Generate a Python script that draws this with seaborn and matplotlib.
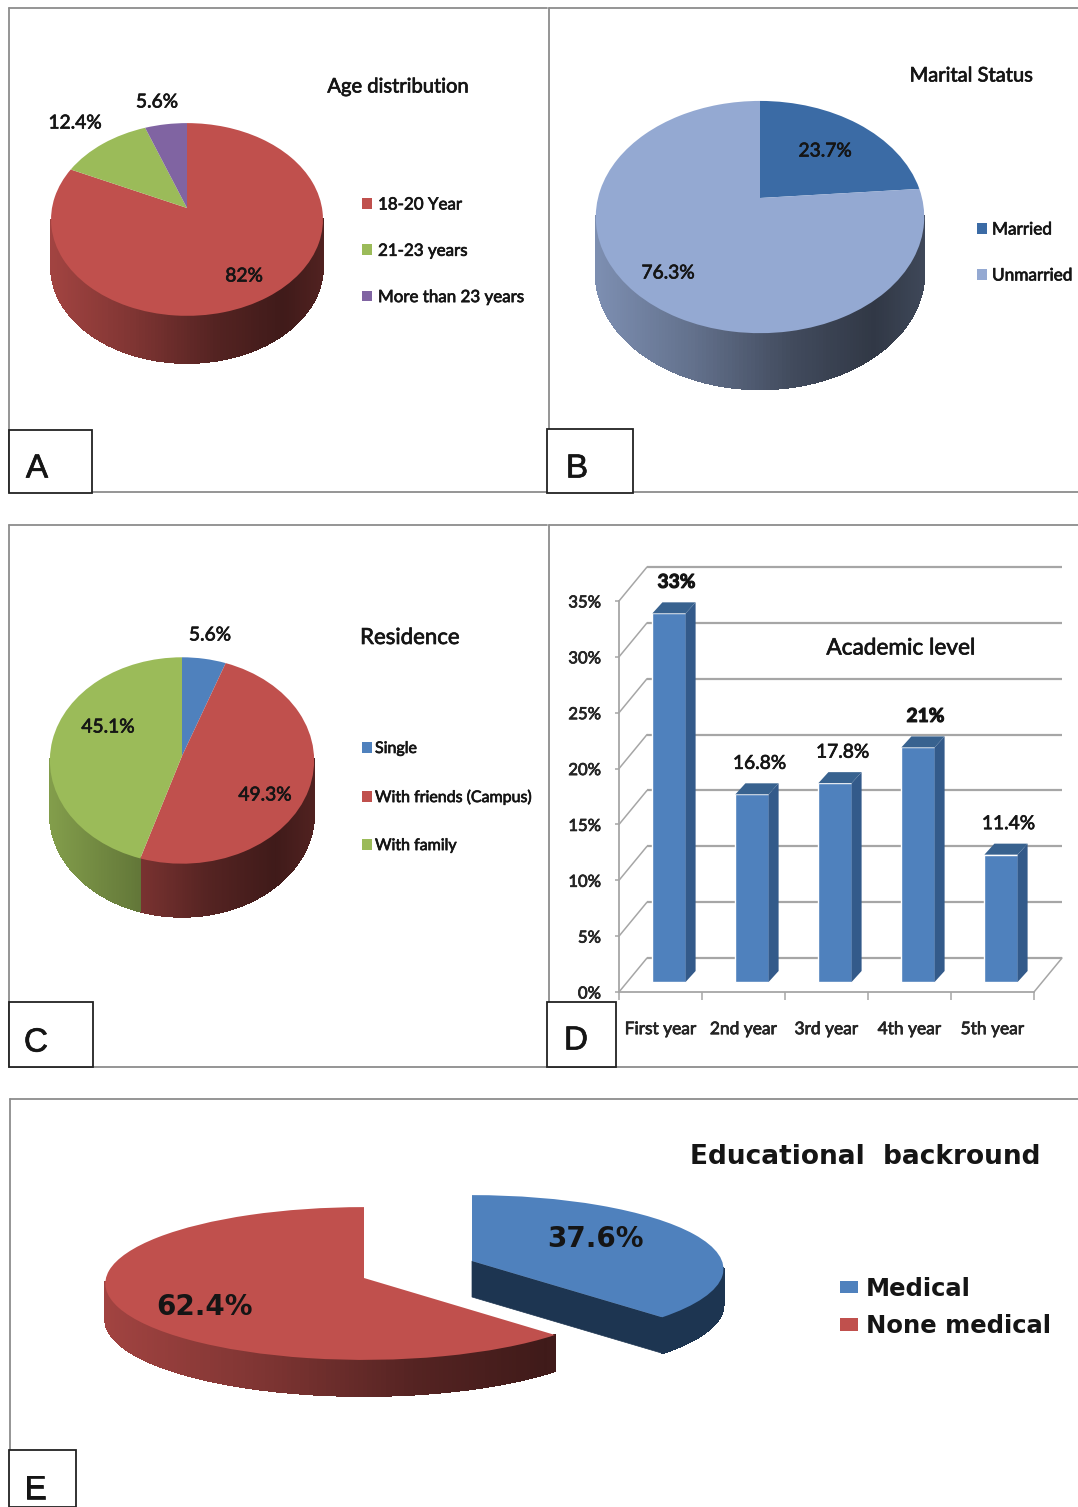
import numpy as np
import seaborn as sns
import matplotlib
matplotlib.use("Agg")
import matplotlib.pyplot as plt
import matplotlib.patheffects as pe
from matplotlib.collections import PolyCollection
from matplotlib.colors import to_rgb
from matplotlib.patches import Patch, Rectangle
from matplotlib.text import Text
from matplotlib.transforms import Affine2D, Transform

# Survey figures, in percent
age_labels = ["18-20 Year", "21-23 years", "More than 23 years"]
age_values = [82, 12.4, 5.6]
marital_labels = ["Married", "Unmarried"]
marital_values = [23.7, 76.3]
residence_labels = ["Single", "With friends (Campus)", "With family"]
residence_values = [5.6, 49.3, 45.1]
academic_labels = ["First year", "2nd year", "3rd year", "4th year", "5th year"]
academic_values = [33, 16.8, 17.8, 21, 11.4]
background_labels = ["Medical", "None medical"]
background_values = [37.6, 62.4]

RED, GREEN, PURPLE = "#c0504d", "#9bbb59", "#8064a2"
BLUE, DEEP_BLUE, PALE_BLUE = "#4f81bd", "#3b6ba5", "#94a9d2"
NAVY = "#1d3551"
FRAME = "#8c8c8c"
INK = "#151515"

sns.set_theme(style="white")
plt.rcParams["font.family"] = ["Lato", "Liberation Sans", "DejaVu Sans"]
plt.rcParams["text.color"] = INK

W, H = 1078, 1507
fig = plt.figure(figsize=(W / 100, H / 100), dpi=100, facecolor="white")


def pixel_axes(x0, y0, x1, y1, **kw):
    """Axes whose data units are figure pixels, y running downward."""
    return fig.add_axes([x0 / W, 1 - y1 / H, (x1 - x0) / W, (y1 - y0) / H], **kw)


class DiscProjection(Transform):
    """Perspective view of the unit disc seen from above and in front."""
    input_dims = output_dims = 2
    is_affine = False

    def __init__(self, cx, cy, radius, height, k):
        super().__init__()
        self.cx, self.cy, self.radius, self.height, self.k = cx, cy, radius, height, k

    def transform_non_affine(self, xy):
        xy = np.asarray(xy, dtype=float)
        w = 1 + self.k * xy[:, 1]
        return np.column_stack((self.cx + self.radius * xy[:, 0] / w,
                                self.cy - self.height * xy[:, 1] / w))


def side_shade(t):
    return np.interp(t, [0, 0.3, 0.6, 0.85, 1], [0.84, 0.66, 0.44, 0.33, 0.42])


def draw_pie(ax, values, colors, projections, depth, flat_sides=None, cut_faces=()):
    flat_sides = flat_sides or {}
    wedges, _ = ax.pie(values, colors=colors, startangle=90, counterclock=False,
                       radius=1, wedgeprops=dict(linewidth=0, zorder=3))
    edges = 90 - 360 * np.cumsum([0] + list(values)) / np.sum(values)
    for i, wedge in enumerate(wedges):
        proj = projections[i]
        wedge.set_transform(proj + ax.transData)
        theta = np.radians(np.linspace(edges[i], edges[i + 1], 240))
        # only the rim below the disc's widest points shows a side wall
        theta = theta[np.sin(theta) < -proj.k + 0.02]
        if theta.size < 2:
            continue
        rim = proj.transform_non_affine(np.column_stack((np.cos(theta), np.sin(theta))))
        polys, fills = [], []
        base = np.array(to_rgb(colors[i]))
        for a, b in zip(rim[:-1], rim[1:]):
            polys.append([a, b, b + [0, depth], a + [0, depth]])
            t = ((a[0] + b[0]) / 2 - proj.cx + proj.radius) / (2 * proj.radius)
            fills.append(to_rgb(flat_sides[i]) if i in flat_sides else tuple(base * side_shade(t)))
        ax.add_collection(PolyCollection(polys, facecolors=fills, edgecolors=fills,
                                         linewidths=0.8, antialiaseds=False, zorder=1))
        if i in cut_faces:
            # flat face exposed along the trailing radius of a pulled-out slice
            end = np.radians(edges[i + 1])
            pts = proj.transform_non_affine(np.array([[0, 0], [np.cos(end), np.sin(end)]]))
            ax.fill([pts[0, 0], pts[1, 0], pts[1, 0], pts[0, 0]],
                    [pts[0, 1], pts[1, 1], pts[1, 1] + depth, pts[0, 1] + depth],
                    color=flat_sides[i], lw=0.5, zorder=2)


def finish_panel(ax, x0, y0, x1, y1, sides, letter, box):
    ax.set_aspect("auto")
    ax.set_xlim(x0, x1)
    ax.set_ylim(y1, y0)
    ax.set_xticks([])
    ax.set_yticks([])
    ax.set_frame_on(False)
    for side in sides:
        xs = {"left": [x0, x0], "right": [x1, x1]}.get(side, [x0, x1])
        ys = {"top": [y0, y0], "bottom": [y1, y1]}.get(side, [y0, y1])
        ax.plot(xs, ys, color=FRAME, lw=1.3, clip_on=False, zorder=4)
    bx0, by0, bx1, by1 = box
    ax.add_patch(Rectangle((bx0, by0), bx1 - bx0, by1 - by0, fc="white", ec="#222222",
                           lw=1.3, clip_on=False, zorder=6))
    ax.text(letter[1], letter[2], letter[0], ha="center", va="center", fontsize=24,
            family="Liberation Sans", zorder=7, clip_on=False)


def add_legend(ax, labels, colors, x, y, fs, gap, handle=(10, 10), pad=6, **text_kw):
    px = fs * 100 / 72
    return ax.legend([Patch(facecolor=c, lw=0) for c in colors], labels,
                     loc="upper left", bbox_to_anchor=(x, y), bbox_transform=ax.transData,
                     frameon=False, borderpad=0, borderaxespad=0,
                     handlelength=handle[0] / px, handleheight=handle[1] / px,
                     handletextpad=pad / px, labelspacing=gap / px,
                     prop=dict(size=fs, **text_kw))


def pct(v):
    return f"{v:g}%"


VALUE_FS, TITLE_FS = 13.8, 14.5

# Panel A: age distribution
ax_a = pixel_axes(9, 8, 547, 492)
colors_a = [RED, GREEN, PURPLE]
proj_a = DiscProjection(187, 208, 135, 95, 0.119)
draw_pie(ax_a, age_values, colors_a, [proj_a] * 3, 47)
for v, (x, y) in zip(age_values, [(244, 276), (75, 123), (157, 102)]):
    ax_a.text(x, y, pct(v), ha="center", va="center", fontsize=VALUE_FS, zorder=5)
ax_a.text(398, 87, "Age distribution", ha="center", va="center", fontsize=TITLE_FS)
add_legend(ax_a, age_labels, colors_a, 362, 196.5, 12.2, 30.3)
finish_panel(ax_a, 9, 8, 547, 492, ["left", "top", "bottom"], ("A", 37, 469), (9, 430, 92, 493))

# Panel B: marital status
ax_b = pixel_axes(549, 8, 1078, 492)
colors_b = [DEEP_BLUE, PALE_BLUE]
proj_b = DiscProjection(760, 198, 162, 113, 0.164)
draw_pie(ax_b, marital_values, colors_b, [proj_b] * 2, 56)
for v, (x, y) in zip(marital_values, [(825, 151), (668, 273)]):
    ax_b.text(x, y, pct(v), ha="center", va="center", fontsize=VALUE_FS, zorder=5)
ax_b.text(971, 76, "Marital Status", ha="center", va="center", fontsize=TITLE_FS)
add_legend(ax_b, marital_labels, colors_b, 977, 221.5, 12.4, 30, pad=5)
finish_panel(ax_b, 549, 8, 1078, 492, ["left", "top", "bottom"], ("B", 577, 469), (547, 429, 633, 493))

# Panel C: residence
ax_c = pixel_axes(9, 525, 547, 1067)
colors_c = [BLUE, RED, GREEN]
proj_c = DiscProjection(182, 756, 132, 103, 0.0435)
draw_pie(ax_c, residence_values, colors_c, [proj_c] * 3, 53)
for v, (x, y) in zip(residence_values, [(210, 635), (265, 795), (108, 727)]):
    ax_c.text(x, y, pct(v), ha="center", va="center", fontsize=VALUE_FS, zorder=5)
ax_c.text(410, 638, "Residence", ha="center", va="center", fontsize=16)
add_legend(ax_c, residence_labels, colors_c, 362, 742, 11.5, 34, pad=3)
finish_panel(ax_c, 9, 525, 547, 1067, ["left", "top", "bottom"], ("C", 36, 1043), (9, 1002, 93, 1067))

# Panel D: academic level, a column chart with an oblique floor and back wall
ax_d = fig.add_axes([619 / W, 1 - 992 / H, (1034 - 619) / W, (992 - 601) / H])
ax_d.patch.set_alpha(0)
sns.barplot(x=academic_labels, y=academic_values, color=BLUE, saturation=1, width=0.4,
            ax=ax_d, zorder=3)
ax_d.set_xlim(-0.5, 4.5)
ax_d.set_ylim(0, 35)
ax_d.set_xlabel("")
ax_d.set_ylabel("")
GRID = "#a6a6a6"


def shifted(dx, dy):
    return ax_d.transData + Affine2D().translate(dx, dy)


pct_ticks = np.arange(0, 36, 5)
wall = (28, 34)
ax_d.hlines(pct_ticks, -0.5, 4.5, colors=GRID, lw=1.6, transform=shifted(*wall), clip_on=False, zorder=1)
to_data = ax_d.transData.inverted()
for t in pct_ticks:
    a = ax_d.transData.transform((-0.5, t))
    e = to_data.transform(a + wall)
    ax_d.plot([-0.5, e[0]], [t, e[1]], color=GRID, lw=1.1, clip_on=False, zorder=1)
a = ax_d.transData.transform((4.5, 0))
e = to_data.transform(a + wall)
ax_d.plot([4.5, e[0]], [0, e[1]], color=GRID, lw=1.1, clip_on=False, zorder=1)

# the columns stand mid-floor, so shift them back and give each a side and a top face
mid = (8.5, 10)
sx, sy = 10 / (415 / 5), 11 / (391 / 35)
half = 0.2
for patch in ax_d.patches:
    patch.set_transform(shifted(*mid))
for i, v in enumerate(academic_values):
    r, l = i + half, i - half
    ax_d.fill([r, r + sx, r + sx, r], [0, sy, v + sy, v], color="#335a8a", lw=0,
              transform=shifted(*mid), clip_on=False, zorder=3)
    ax_d.fill([l, r, r + sx, l + sx], [v, v, v + sy, v + sy], color="#38628f", lw=0,
              transform=shifted(*mid), clip_on=False, zorder=3)
    ax_d.annotate(pct(v), (i, v), xytext=(16 / 100 * 72, 41 / 100 * 72), textcoords="offset points",
                  ha="center", va="center", fontsize=VALUE_FS, annotation_clip=False, zorder=5,
                  weight="bold" if v in (33, 21) else "normal")

ax_d.set_yticks(pct_ticks, [pct(t) for t in pct_ticks], fontsize=12)
ax_d.set_xticks(np.arange(5), academic_labels, fontsize=12.5)
ax_d.set_xticks(np.arange(-0.5, 5), minor=True)
ax_d.tick_params(axis="x", which="major", length=0, pad=21)
ax_d.tick_params(axis="x", which="minor", length=6, width=1.1, color=GRID, bottom=True)
ax_d.tick_params(axis="y", length=3, width=1.1, color=GRID, left=True, pad=10)
sns.despine(ax=ax_d, top=True, right=True)
for side in ("left", "bottom"):
    ax_d.spines[side].set_color(GRID)
    ax_d.spines[side].set_linewidth(1.3)
ax_d.text(901, 648, "Academic level", ha="center", va="center", fontsize=16.3,
          transform=Affine2D().scale(1, -1).translate(0, H), zorder=5)

# frame and letter for the academic panel
ax_df = pixel_axes(549, 525, 1078, 1067)
finish_panel(ax_df, 549, 525, 1078, 1067, ["left", "top", "bottom"], ("D", 576, 1041), (547, 1002, 616, 1067))
ax_df.patch.set_alpha(0)

# Panel E: educational background, the two slices pulled apart
ax_e = pixel_axes(10, 1099, 1078, 1507)
colors_e = [BLUE, RED]
proj_med = DiscProjection(472, 1261, 250, 73, 0.108)
proj_non = DiscProjection(364, 1278, 258, 76, 0.072)
draw_pie(ax_e, background_values, colors_e, [proj_med, proj_non], 36,
         flat_sides={0: NAVY}, cut_faces=(0,))
WIDE = dict(family="DejaVu Sans", weight="bold")
for v, (x, y) in zip(background_values, [(595, 1239), (204, 1307)]):
    ax_e.text(x, y, pct(v), ha="center", va="center", fontsize=20, zorder=5, **WIDE)
ax_e.text(865, 1157, "Educational  backround", ha="center", va="center", fontsize=19, **WIDE)
add_legend(ax_e, background_labels, colors_e, 840, 1276.5, 17.5, 13.5, handle=(18, 10), pad=8,
           family="DejaVu Sans", weight="bold")
finish_panel(ax_e, 10, 1099, 1078, 1507, ["left", "top"], ("E", 35, 1490), (9, 1450, 76, 1507))

# The labels are set a touch heavier than the regular weight of the face
for text in fig.findobj(Text):
    if not text.get_text() or text.get_fontfamily()[0] == "DejaVu Sans":
        continue
    stroke = 0.8 if text.get_weight() == "bold" else 0.5
    text.set_path_effects([pe.withStroke(linewidth=stroke, foreground=INK)])

fig.savefig("out.png", dpi=100, facecolor="white")
